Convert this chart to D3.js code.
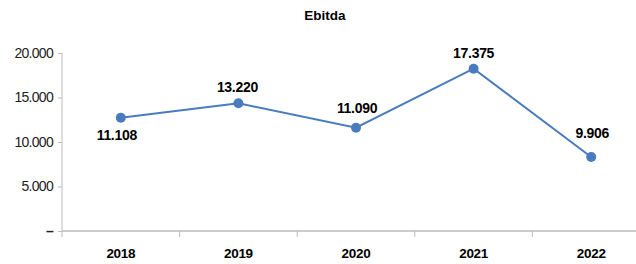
<!DOCTYPE html>
<html>
<head>
<meta charset="utf-8">
<script src="https://cdn.jsdelivr.net/npm/d3@7"></script>
<style>
  body { margin: 0; background: #fff; }
  svg text { font-family: "Liberation Sans", Arial, sans-serif; }
</style>
</head>
<body>
<script>
// chart data
const years = ['2018', '2019', '2020', '2021', '2022']
// plotted positions
const ebitda = [12730, 14350, 11600, 18240, 8320]
// printed data labels
const valueLabels = ['11.108', '13.220', '11.090', '17.375', '9.906']
const yTicks = [0, 5000, 10000, 15000, 20000]
const yTickLabels = ['–', '5.000', '10.000', '15.000', '20.000']

// label placement (px from the dot, baseline), not data
const labelDx = [-4, -1, 1, 0, 1]
const labelDy = [22, -11, -15, -11, -19]

const width = 636, height = 264
const margin = {top: 53, left: 62, bottom: 33}

const svg = d3.select('body').append('svg')
    .attr('width', width)
    .attr('height', height)

// x: one band per year, last band runs off the right edge
const xScale = d3.scaleBand()
    .domain(years)
    .range([margin.left, 650])
const xMid = d => xScale(d) + xScale.bandwidth() / 2

const yScale = d3.scaleLinear()
    .domain([0, 20000])
    .range([height - margin.bottom, margin.top])

// y axis
const yAxis = svg.append('g')
    .attr('transform', 'translate(' + margin.left + ',0)')
    .call(d3.axisLeft(yScale)
        .tickValues(yTicks)
        .tickSize(4)
        .tickPadding(5)
        .tickFormat((d, i) => yTickLabels[i]))
yAxis.select('.domain').remove()
yAxis.append('line')
    .attr('x1', 0).attr('x2', 0)
    .attr('y1', yScale(20000)).attr('y2', yScale(0) + 6)
    .attr('stroke', '#bbb')
yAxis.selectAll('.tick line').attr('stroke', '#bbb')
yAxis.selectAll('.tick text')
    .attr('font-size', '14px')
    .attr('letter-spacing', '-0.7px')
    .attr('fill', '#222')
yAxis.select('.tick text')   // the zero dash is bolder
    .attr('font-weight', 'bold')

// x axis with ticks on the band boundaries
const xAxis = svg.append('g')
    .attr('transform', 'translate(0,' + yScale(0) + ')')
xAxis.append('line')
    .attr('x1', margin.left).attr('x2', width)
    .attr('stroke', '#bbb').attr('stroke-width', 1.5)
xAxis.selectAll('.sep').data(years.slice(1))
    .enter()
    .append('line')
        .attr('x1', d => xScale(d)).attr('x2', d => xScale(d))
        .attr('y1', 0).attr('y2', 6)
        .attr('stroke', '#bbb')
xAxis.selectAll('.lab').data(years)
    .enter()
    .append('text')
        .attr('x', d => xMid(d))
        .attr('y', 27)
        .attr('text-anchor', 'middle')
        .attr('font-size', '13.5px')
        .attr('font-weight', 'bold')
        .attr('letter-spacing', '-0.3px')
        .text(d => d)

// line
const line = d3.line()
    .x((d, i) => xMid(years[i]))
    .y(d => yScale(d))
svg.append('path')
    .datum(ebitda)
    .attr('d', line)
    .attr('fill', 'none')
    .attr('stroke', '#4a7bbf')
    .attr('stroke-width', 2)

// dots
svg.selectAll('.dot').data(ebitda)
    .enter()
    .append('circle')
        .attr('cx', (d, i) => xMid(years[i]))
        .attr('cy', d => yScale(d))
        .attr('r', 5)
        .attr('fill', '#4a7bbf')

// value labels
svg.selectAll('.val').data(ebitda)
    .enter()
    .append('text')
        .attr('x', (d, i) => xMid(years[i]) + labelDx[i])
        .attr('y', (d, i) => yScale(d) + labelDy[i])
        .attr('text-anchor', 'middle')
        .attr('font-size', '14px')
        .attr('font-weight', 'bold')
        .attr('letter-spacing', '-0.3px')
        .text((d, i) => valueLabels[i])

// title
svg.append('text')
    .attr('x', 325)
    .attr('y', 20)
    .attr('text-anchor', 'middle')
    .attr('font-size', '13.5px')
    .attr('font-weight', 'bold')
    .text('Ebitda')
</script>
</body>
</html>
